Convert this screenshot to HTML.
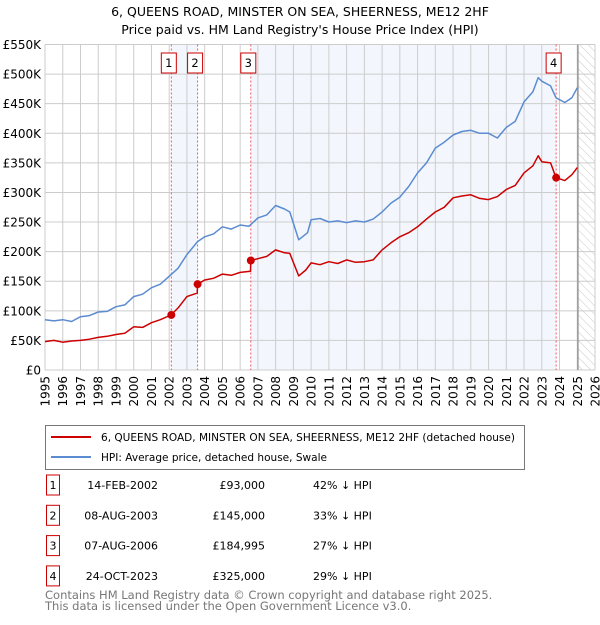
<!DOCTYPE html>
<html><head><meta charset="utf-8">
<style>
body{margin:0;background:#fff;font-family:"Liberation Sans","DejaVu Sans",sans-serif;}
svg text{font-family:"DejaVu Sans","Liberation Sans",sans-serif;}
</style></head>
<body>
<svg width="600" height="620" viewBox="0 0 600 620" xmlns="http://www.w3.org/2000/svg">
<defs>
<pattern id="hatch" width="6" height="6" patternUnits="userSpaceOnUse" patternTransform="rotate(-45)">
<line x1="0" y1="0" x2="0" y2="6" stroke="#bbb" stroke-width="0.8"/>
</pattern>
</defs>
<text x="300" y="16" text-anchor="middle" font-size="12.5" fill="#000">6, QUEENS ROAD, MINSTER ON SEA, SHEERNESS, ME12 2HF</text>
<text x="300" y="34" text-anchor="middle" font-size="12.5" fill="#000">Price paid vs. HM Land Registry's House Price Index (HPI)</text>
<g id="plot"></g>
<g id="legend">
<rect x="45.5" y="425.5" width="479" height="44" fill="#fff" stroke="#777"/>
<line x1="51" y1="437" x2="91" y2="437" stroke="#cc0000" stroke-width="2"/>
<text x="101" y="441" font-size="10.8" textLength="414" lengthAdjust="spacingAndGlyphs">6, QUEENS ROAD, MINSTER ON SEA, SHEERNESS, ME12 2HF (detached house)</text>
<line x1="51" y1="457" x2="91" y2="457" stroke="#5b8bd0" stroke-width="2"/>
<text x="101" y="461" font-size="10.8" textLength="226" lengthAdjust="spacingAndGlyphs">HPI: Average price, detached house, Swale</text>
</g>
<g id="table" font-size="11"></g>
<text x="45" y="599" font-size="11.5" fill="#777">Contains HM Land Registry data © Crown copyright and database right 2025.</text>
<text x="45" y="610" font-size="11.5" fill="#777">This data is licensed under the Open Government Licence v3.0.</text>
</svg>
<script>
const hpiYears=[1995,1995.5,1996,1996.5,1997,1997.5,1998,1998.5,1999,1999.5,2000,2000.5,2001,2001.5,2002.1,2002.5,2003,2003.6,2004,2004.5,2005,2005.5,2006,2006.5,2007,2007.5,2008,2008.5,2008.8,2009.3,2009.8,2010,2010.5,2011,2011.5,2012,2012.5,2013,2013.5,2014,2014.5,2015,2015.5,2016,2016.5,2017,2017.5,2018,2018.5,2019,2019.5,2020,2020.5,2021,2021.5,2022,2022.5,2022.8,2023,2023.5,2023.8,2024.3,2024.7,2025];
const hpiValues=[85,83,85,82,90,92,98,99,107,110,124,128,139,145,161,172,195,217,225,230,242,238,245,243,257,262,278,272,267,220,232,254,256,250,252,249,252,250,255,267,282,292,310,333,350,375,385,397,403,405,400,400,392,410,420,453,470,494,488,480,460,452,460,477];
const ppYears=[1995,1995.5,1996,1996.5,1997,1997.5,1998,1998.5,1999,1999.5,2000,2000.5,2001,2001.5,2002.1,2002.5,2003,2003.58,2003.6,2004,2004.5,2005,2005.5,2006,2006.58,2006.6,2007,2007.5,2008,2008.5,2008.8,2009.3,2009.7,2010,2010.5,2011,2011.5,2012,2012.5,2013,2013.5,2014,2014.5,2015,2015.5,2016,2016.5,2017,2017.5,2018,2018.5,2019,2019.5,2020,2020.5,2021,2021.5,2022,2022.5,2022.8,2023,2023.5,2023.8,2024.3,2024.7,2025];
const ppValues=[48,50,47,49,50,52,55,57,60,62,73,72,80,85,93,105,124,130,145,152,155,162,160,165,167,185,188,192,203,198,197,159,169,181,178,183,180,186,182,183,186,203,215,225,232,242,255,267,275,291,294,296,290,288,293,305,312,333,345,362,352,350,325,320,330,342];
const saleLabels=["1","2","3","4"];
const saleYears=[2002.12,2003.6,2006.6,2023.81];
const saleValues=[93,145,185,325];
const saleDates=["14-FEB-2002","08-AUG-2003","07-AUG-2006","24-OCT-2023"];
const salePrices=["£93,000","£145,000","£184,995","£325,000"];
const saleDiffs=["42% ↓ HPI","33% ↓ HPI","27% ↓ HPI","29% ↓ HPI"];
const yTicks=[0,50,100,150,200,250,300,350,400,450,500,550];
const yTickLabels=["£0","£50K","£100K","£150K","£200K","£250K","£300K","£350K","£400K","£450K","£500K","£550K"];
const xTicks=[1995,1996,1997,1998,1999,2000,2001,2002,2003,2004,2005,2006,2007,2008,2009,2010,2011,2012,2013,2014,2015,2016,2017,2018,2019,2020,2021,2022,2023,2024,2025,2026];

const X0=45,X1=595,Y0=370,Y1=44.5;
const xs=y=>X0+(y-1995)/(2026-1995)*(X1-X0);
const ys=v=>Y0-v/550*(Y0-Y1);
const NS="http://www.w3.org/2000/svg";
const plot=document.getElementById('plot');
function mk(tag,attrs,parent){const e=document.createElementNS(NS,tag);for(const k in attrs)e.setAttribute(k,attrs[k]);(parent||plot).appendChild(e);return e;}

let s=mk('rect',{x:xs(saleYears[0]),y:Y1,width:xs(saleYears[1])-xs(saleYears[0]),height:Y0-Y1,fill:'#eef3fc',opacity:0.7});


s=mk('rect',{x:xs(saleYears[2]),y:Y1,width:xs(saleYears[3])-xs(saleYears[2]),height:Y0-Y1,fill:'#eef3fc',opacity:0.7});


s=mk('rect',{x:xs(2025.04),y:Y1,width:X1-xs(2025.04),height:Y0-Y1,fill:'url(#hatch)'});



yTicks.forEach((v,i)=>{
 const l=mk('line',{x1:X0,x2:X1,y1:ys(v),y2:ys(v),stroke:'#cccccc','stroke-width':1});
 
 
 const t=mk('text',{x:X0-4,y:ys(v)+4.5,'text-anchor':'end','font-size':12});
 t.textContent=yTickLabels[i];
 
 
});
xTicks.forEach(v=>{
 const l=mk('line',{x1:xs(v),x2:xs(v),y1:Y1,y2:Y0,stroke:'#cccccc','stroke-width':1});
 
 
 const t=mk('text',{x:0,y:0,'text-anchor':'end','font-size':12,transform:`translate(${xs(v)+4.5},${Y0+6}) rotate(-90)`});
 t.textContent=v;
 
 
});
const bl=mk('line',{x1:xs(2025.04),x2:xs(2025.04),y1:Y1,y2:Y0,stroke:'#888','stroke-width':1.2});



saleYears.forEach((y,i)=>{
 const l=mk('line',{x1:xs(y),x2:xs(y),y1:Y1,y2:Y0,stroke:'#ee5566','stroke-width':1,'stroke-dasharray':'2,2'});
 
 
});

function path(xa,va,color,name){
 const d=xa.map((x,i)=>(i?'L':'M')+xs(x).toFixed(1)+','+ys(va[i]).toFixed(1)).join('');
 const p=mk('path',{d:d,fill:'none',stroke:color,'stroke-width':1.5,'stroke-linejoin':'round'});
 
 
}
path(hpiYears,hpiValues,'#5b8bd0','hpi-line');
path(ppYears,ppValues,'#cc0000','property-line');

saleYears.forEach((y,i)=>{
 const c=mk('circle',{cx:xs(y),cy:ys(saleValues[i]),r:4,fill:'#cc0000'});
 
 
 const bx=xs(y)-10;
 const r=mk('rect',{x:bx,y:53,width:15,height:20,fill:'#fff',stroke:'#cc0000','stroke-width':1});
 
 
 const t=mk('text',{x:bx+7.5,y:67,'text-anchor':'middle','font-size':11.5});
 t.textContent=saleLabels[i];
 
 
});

const tbl=document.getElementById('table');
saleLabels.forEach((lab,i)=>{
 const cy=485+i*30.3;
 const r=mk('rect',{x:46.5,y:cy-10,width:13,height:20,fill:'#fff',stroke:'#cc0000','stroke-width':1},tbl);
 
 
 const cells=[[53,'middle',lab],[158,'end',saleDates[i]],[265,'end',salePrices[i]],[313,'start',saleDiffs[i]]];
 const names=['table-index','table-date','table-price','table-hpi-diff'];
 cells.forEach((c,j)=>{
  const t=mk('text',{x:c[0],y:cy+4,'text-anchor':c[1]},tbl);
  t.textContent=c[2];
  
  
 });
});
</script>
</body></html>
